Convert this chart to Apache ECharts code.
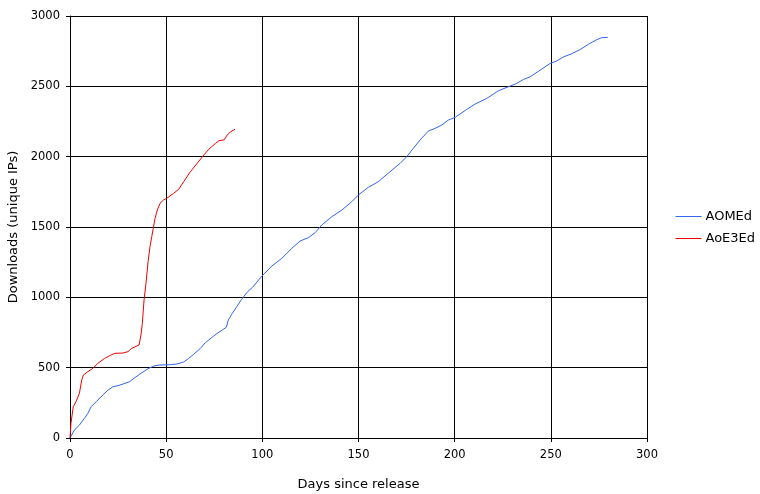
<!DOCTYPE html>
<html>
<head>
<meta charset="utf-8">
<script src="https://cdn.jsdelivr.net/npm/echarts@6/dist/echarts.min.js"></script>
<style>html,body{margin:0;padding:0;background:#fff;}#c{width:760px;height:494px;}</style>
</head>
<body>
<div id="c"></div>
<script>
var xTicks = [0, 50, 100, 150, 200, 250, 300];
var yTicks = [0, 500, 1000, 1500, 2000, 2500, 3000];
var seriesNames = ['AOMEd', 'AoE3Ed'];

var aomedDays = [0,2.3,4.9,7.5,9.3,11,13.6,17.1,19.8,22.4,25,27.6,31.1,33.7,36.4,39,41.6,44.2,46.8,52.1,55.6,59.1,61.7,64.3,67.8,70.4,73.9,76.5,79.2,81.3,82.3,84.4,86.7,89.2,92.3,94.9,99.7,104.9,110.1,115.3,119.6,123.9,127.4,130.9,136.1,141.3,146.5,149.9,155.1,160.3,166.4,171.6,175.1,178.5,182,186.3,189.8,193.3,196.7,200.2,206.3,210.6,216.7,222.7,227.9,232.3,235.7,239.2,244.4,249.6,253.1,256.5,260.9,265.2,269.5,273.9,276.5,279.6];
var aomedVals = [0,57,92,140,175,223,258,306,341,365,372,384,401,429,455,479,500,514,519,521,526,540,566,595,637,678,716,744,768,787,839,886,934,985,1040,1071,1150,1222,1277,1348,1400,1424,1459,1514,1573,1620,1680,1727,1782,1822,1893,1952,2000,2059,2118,2182,2201,2225,2260,2279,2336,2374,2414,2468,2497,2520,2549,2567,2615,2662,2680,2709,2732,2761,2799,2832,2846,2848];

var aoe3Days = [0,0.5,1.7,3.1,4.9,6.1,7,9.3,11.9,14.5,18,20.6,23.3,27.6,30.2,32,35.9,36.9,37.6,38.5,39.5,40.7,41.6,42.5,43.3,44.2,45.4,46.8,48.6,50.3,53.8,56.5,59.1,62.6,66.1,69.6,72.2,75.7,77.5,80.1,81.8,83.6,85.8];
var aoe3Vals = [0,104,223,258,318,412,448,472,495,531,566,585,602,604,614,637,661,732,815,981,1100,1265,1360,1431,1490,1561,1621,1668,1692,1704,1739,1768,1822,1893,1953,2012,2053,2095,2114,2119,2155,2178,2195];

function pairs(xs, ys){ return xs.map(function(x,i){ return [x, ys[i]]; }); }

var font = 'DejaVu Sans';
var colors = ['#3366ee', '#ee0000'];
var chart = echarts.init(document.getElementById('c'));
chart.setOption({
  animation: false,
  backgroundColor: '#fff',
  textStyle: {fontFamily: font},
  grid: {left: 70, right: 113, top: 16, bottom: 56, containLabel: false, outerBoundsMode: 'none'},
  legend: {
    orient: 'vertical', left: 675, top: 210, padding: 0,
    itemWidth: 26, itemHeight: 13, itemGap: 9,
    itemStyle: {opacity: 0},
    textStyle: {fontFamily: font, fontSize: 13, color: '#000', padding: [0,0,0,-1]},
    data: [
      {name: seriesNames[0], lineStyle: {color: colors[0], width: 1}},
      {name: seriesNames[1], lineStyle: {color: colors[1], width: 1}}
    ]
  },
  xAxis: {
    type: 'value', min: xTicks[0], max: xTicks[xTicks.length-1], interval: 50,
    name: 'Days since release', nameLocation: 'middle', nameGap: 40,
    nameTextStyle: {fontFamily: font, fontSize: 13, color: '#000'},
    axisLine: {show: true, lineStyle: {color: '#000', width: 1}},
    axisTick: {show: true, length: 4, lineStyle: {color: '#000'}},
    axisLabel: {fontFamily: font, fontSize: 11.5, color: '#000', margin: 11},
    splitLine: {show: true, lineStyle: {color: '#000', width: 1}}
  },
  yAxis: {
    type: 'value', min: yTicks[0], max: yTicks[yTicks.length-1], interval: 500,
    name: 'Downloads (unique IPs)', nameLocation: 'middle', nameGap: 50, nameRotate: 90,
    nameTextStyle: {fontFamily: font, fontSize: 13, color: '#000'},
    axisLine: {show: true, lineStyle: {color: '#000', width: 1}},
    axisTick: {show: true, length: 4, lineStyle: {color: '#000'}},
    axisLabel: {fontFamily: font, fontSize: 11.5, color: '#000', margin: 10, formatter: function(v){ return String(v); }},
    splitLine: {show: true, lineStyle: {color: '#000', width: 1}}
  },
  series: [
    {name: seriesNames[0], type: 'line', data: pairs(aomedDays, aomedVals), showSymbol: false, symbol: 'none',
     lineStyle: {color: colors[0], width: 1}, itemStyle: {color: colors[0]}},
    {name: seriesNames[1], type: 'line', data: pairs(aoe3Days, aoe3Vals), showSymbol: false, symbol: 'none',
     lineStyle: {color: colors[1], width: 1}, itemStyle: {color: colors[1]}}
  ]
});
</script>
</body>
</html>
